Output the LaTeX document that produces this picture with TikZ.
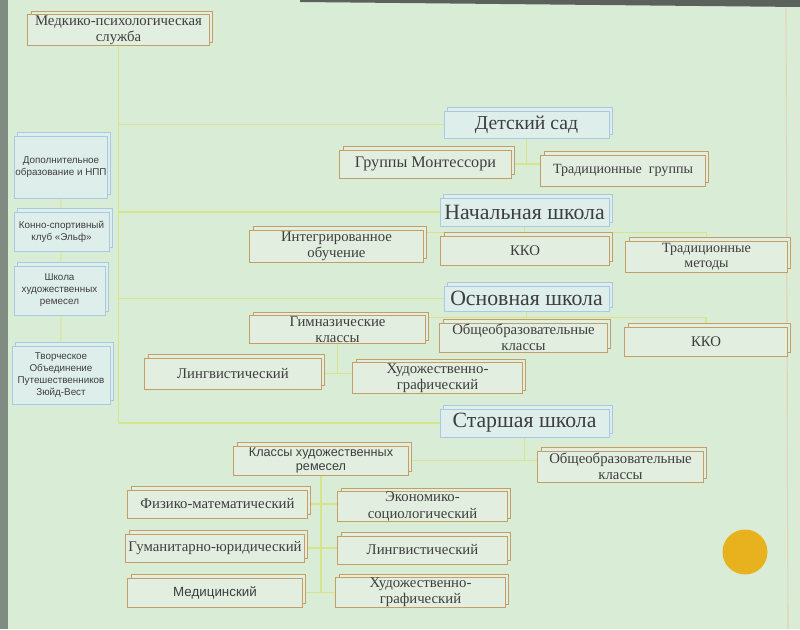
\documentclass[tikz,border=0pt]{standalone}
\usepackage{fontspec}
\setmainfont{Liberation Serif}
\setsansfont{Liberation Sans}
\usetikzlibrary{positioning, shadows, backgrounds}

\definecolor{slidebg}{RGB}{216,236,214}
\definecolor{edgegray}{RGB}{128,140,130}
\definecolor{lvlblue}{RGB}{168,200,228}
\definecolor{lvlfill}{RGB}{222,238,234}
\definecolor{subtan}{RGB}{196,158,100}
\definecolor{subfill}{RGB}{226,238,224}
\definecolor{linkgreen}{RGB}{214,228,140}
\definecolor{txtgray}{RGB}{62,62,62}
\definecolor{dotyellow}{RGB}{232,178,30}

\begin{document}
\begin{tikzpicture}[
  x=0.025cm, y=-0.025cm,
  text=txtgray,
  lvl/.style  ={rectangle, draw=lvlblue, fill=lvlfill, line width=0.6pt,
                copy shadow={shadow xshift=2.2pt, shadow yshift=2.2pt},
                inner sep=0.5pt, align=center, font=\fontsize{15.5}{17}\selectfont},
  sub/.style  ={rectangle, draw=subtan, fill=subfill, line width=0.7pt,
                copy shadow={shadow xshift=2.2pt, shadow yshift=2.2pt},
                inner sep=0.5pt, align=center, font=\fontsize{10.5}{11.5}\selectfont},
  side/.style ={rectangle, draw=lvlblue, fill=lvlfill, line width=0.6pt,
                copy shadow={shadow xshift=2.2pt, shadow yshift=2.2pt},
                inner sep=0.5pt, align=center, font=\sffamily\fontsize{7}{8.5}\selectfont},
  sans/.style ={font=\sffamily\fontsize{9.5}{11}\selectfont},
  link/.style ={draw=linkgreen, line width=1pt}
]

% ---------- slide ----------
\begin{scope}[on background layer]
  \fill[slidebg] (0,0) rectangle (800,629);
  \fill[edgegray] (0,0) rectangle (8,629);
  \fill[edgegray!70!black] (300,0) -- (800,0) -- (800,7) -- (300,2) -- cycle;
  \draw[subtan!45, line width=0.8pt] (786,8) -- (788,629);
  \draw[subtan!30, line width=0.6pt] (795,8) -- (797,629);
\end{scope}
\useasboundingbox (0,0) rectangle (800,629);
\fill[dotyellow] (745,552) circle (22.5);

% ---------- services column ----------
\node[sub, minimum width=45.25mm, minimum height=7.5mm] (med) at (118.5,30) {Медкико-психологическая\\служба};
\node[side, minimum width=23mm,    minimum height=15.5mm]  (dop) at (61,167)    {Дополнительное\\образование и НПП};
\node[side, minimum width=23.75mm, minimum height=9.75mm]  (kon) at (61.5,231.5) {Конно-спортивный\\клуб «Эльф»};
\node[side, minimum width=22.75mm, minimum height=12.25mm] (shk) at (59.5,290.5) {Школа\\художественных\\ремесел};
\node[side, minimum width=24.5mm,  minimum height=14.5mm]  (tvo) at (61,375)    {Творческое\\Объединение\\Путешественников\\Зюйд-Вест};

% ---------- kindergarten ----------
\node[lvl, minimum width=41.25mm, minimum height=6.75mm, font=\fontsize{14}{16}\selectfont] (ds) at (526.5,124.5) {Детский сад};
\node[sub, minimum width=42.75mm, minimum height=7mm, font=\fontsize{11.5}{13}\selectfont] (mont) at (425.5,164) {Группы Монтессори};
\node[sub, minimum width=41mm, minimum height=7.75mm, font=\fontsize{10}{12}\selectfont] (trg) at (623,170.5) {Традиционные\ \ группы};

% ---------- primary ----------
\node[lvl, minimum width=42.25mm, minimum height=7mm] (ns) at (524.5,212) {Начальная школа};
\node[sub, minimum width=43.25mm, minimum height=8mm]    (integ) at (336.5,246) {Интегрированное\\обучение};
\node[sub, minimum width=42mm,    minimum height=7.25mm] (kko1)  at (525,250.5) {ККО};
\node[sub, minimum width=40.25mm, minimum height=7.75mm, font=\fontsize{10}{11}\selectfont] (trm) at (706.5,256.5) {Традиционные\\методы};

% ---------- basic ----------
\node[lvl, minimum width=41.25mm, minimum height=6.25mm] (os) at (526.5,298.5) {Основная школа};
\node[sub, minimum width=43.75mm, minimum height=6.75mm] (gym)   at (337.5,329.5) {Гимназические\\классы};
\node[sub, minimum width=41.75mm, minimum height=7.25mm] (obr1)  at (523.5,337.5) {Общеобразовательные\\классы};
\node[sub, minimum width=40.5mm,  minimum height=7.25mm] (kko2)  at (706,341.5) {ККО};
\node[sub, minimum width=44mm,    minimum height=7.75mm] (ling1) at (233,373.5) {Лингвистический};
\node[sub, minimum width=42.25mm, minimum height=7.5mm]  (hud1)  at (437.5,378) {Художественно-\\графический};

% ---------- senior ----------
\node[lvl, minimum width=42.25mm, minimum height=7mm] (ss) at (524.5,423) {Старшая школа};
\node[sub, sans, font=\sffamily\fontsize{9}{10.5}\selectfont, minimum width=43.5mm, minimum height=7.25mm] (rem) at (321,460.5) {Классы художественных\\ремесел};
\node[sub, minimum width=41.25mm, minimum height=7.75mm] (obr2)  at (620.5,466.5) {Общеобразовательные\\классы};
\node[sub, minimum width=44.75mm, minimum height=7mm]    (fiz)   at (217.5,504) {Физико-математический};
\node[sub, minimum width=42.25mm, minimum height=7.25mm] (eco)   at (422.5,506.5) {Экономико-\\социологический};
\node[sub, minimum width=44.5mm,  minimum height=7mm]    (gum)   at (215,548) {Гуманитарно-юридический};
\node[sub, minimum width=42.25mm, minimum height=7mm]    (ling2) at (422.5,550) {Лингвистический};
\node[sub, sans, minimum width=43.5mm, minimum height=7.25mm] (medc) at (215,592.5) {Медицинский};
\node[sub, minimum width=42.25mm, minimum height=7.25mm] (hud2)  at (420.5,592.5) {Художественно-\\графический};

% ---------- links ----------
\begin{scope}[on background layer]
  \draw[link] (med.south) -- (med.south |- ss.west);
  \draw[link] (med.south |- ds.west) -- (ds.west);
  \draw[link] (med.south |- ns.west) -- (ns.west);
  \draw[link] (med.south |- os.west) -- (os.west);
  \draw[link] (med.south |- ss.west) -- (ss.west);
  \draw[link, draw=linkgreen!50!slidebg] (dop.south) -- (dop.south |- tvo.north);

  \draw[link] (ds.south) -- (ds.south |- mont.center);
  \draw[link] (mont.center) -- (trg.center |- mont.center);

  \draw[link] (ns.south) -- ++(0,6) coordinate (nsb);
  \draw[link] (integ.center |- nsb) -- (trm.center |- nsb) -- (trm.north);

  \draw[link] (os.south) -- ++(0,6) coordinate (osb);
  \draw[link] (gym.center |- osb) -- (kko2.center |- osb) -- (kko2.north);
  \draw[link] (gym.south) -- (gym.south |- ling1.center);
  \draw[link] (ling1.center) -- (hud1.center |- ling1.center);

  \draw[link] (ss.south) -- (ss.south |- rem.center);
  \draw[link] (rem.center) -- (obr2.center |- rem.center);
  \draw[link] (rem.south) -- (rem.south |- medc.center);
  \draw[link] (fiz.center)  -- (eco.center |- fiz.center);
  \draw[link] (gum.center)  -- (ling2.center |- gum.center);
  \draw[link] (medc.center) -- (hud2.center |- medc.center);
\end{scope}

\end{tikzpicture}
\end{document}
